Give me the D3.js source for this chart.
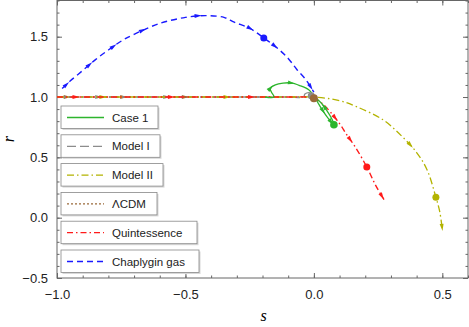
<!DOCTYPE html>
<html>
<head>
<meta charset="utf-8">
<script src="https://cdn.jsdelivr.net/npm/d3@7"></script>
<style>
  body { margin: 0; background: #fff; }
  svg { display: block; font-family: "Liberation Sans", Arial, sans-serif; }
</style>
</head>
<body>
<div id="chart"></div>
<script>
// Trajectories in the (s, r) plane
const chaplygin = [[-0.98, 1.07], [-0.95, 1.13], [-0.9, 1.22], [-0.85, 1.31], [-0.8, 1.39], [-0.745, 1.47],
  [-0.7, 1.52], [-0.6, 1.61], [-0.5, 1.66], [-0.42, 1.675], [-0.35, 1.66], [-0.31, 1.62], [-0.25, 1.57],
  [-0.195, 1.49], [-0.145, 1.41], [-0.1, 1.32], [-0.067, 1.23], [-0.03, 1.14], [0.0, 1.04]];
const quintessence = [[-1.0, 1.0], [-0.75, 1.0], [-0.5, 1.0], [-0.25, 1.0], [-0.1, 1.0], [-0.03, 1.0],
  [0.0, 0.99], [0.03, 0.95], [0.05, 0.91], [0.1, 0.78], [0.127, 0.69], [0.16, 0.59], [0.206, 0.42],
  [0.24, 0.27], [0.273, 0.15]];
const modelII = [[-1.0, 1.0], [-0.75, 1.0], [-0.5, 1.0], [-0.25, 1.0], [-0.05, 1.0], [0.0, 1.0],
  [0.1, 0.97], [0.166, 0.92], [0.27, 0.81], [0.34, 0.68], [0.4, 0.54], [0.44, 0.4], [0.475, 0.17],
  [0.49, 0.05], [0.5, -0.1]];
const modelI = [[-1.0, 1.0], [-0.75, 1.0], [-0.5, 1.0], [-0.25, 1.0], [-0.1, 1.0], [-0.04, 1.0],
  [-0.035, 1.025], [-0.015, 1.035], [0.0, 1.0]];
const lcdm = [[-1.0, 1.0], [-0.5, 1.0], [0.0, 1.0]];
const case1 = [[-0.19, 1.0], [-0.155, 1.0], [-0.165, 1.04], [-0.17, 1.07], [-0.15, 1.1], [-0.12, 1.115],
  [-0.09, 1.117], [-0.055, 1.095], [-0.02, 1.06], [0.0, 1.01], [0.022, 0.93], [0.05, 0.84], [0.078, 0.77],
  [0.072, 0.81], [0.05, 0.89], [0.022, 0.965], [0.0, 1.0]];

// Marked points on each trajectory
const markChaplygin = [-0.195, 1.49];
const markQuintessence = [0.206, 0.42];
const markModelII = [0.475, 0.17];
const markCase1 = [0.078, 0.77];
const markModelI = [-0.01, 1.01];
const markLcdm = [0.0, 0.99];

const legendLabels = ["Case 1", "Model I", "Model II", "\u039BCDM", "Quintessence", "Chaplygin gas"];
const xMajor = [-1.0, -0.5, 0.0, 0.5];
const yMajor = [-0.5, 0.0, 0.5, 1.0, 1.5];

const W = 469, H = 327;
const margin = { top: 0.5, right: 1, bottom: 49, left: 57 };

const svg = d3.select("#chart").append("svg").attr("width", W).attr("height", H);

const x = d3.scaleLinear().domain([-1.0, 0.6]).range([margin.left, W - margin.right]);
const y = d3.scaleLinear().domain([-0.5, 1.8]).range([H - margin.bottom, margin.top]);

const xMinor = d3.range(-1.0, 0.61, 0.1).map((d) => +d.toFixed(2));
const yMinor = d3.range(-0.5, 1.81, 0.1).map((d) => +d.toFixed(2));

const axisColor = "#666";
const fmt = (d) => d3.format(".1f")(d).replace("-", "\u2212");

function styleAxis(g) {
  g.select(".domain").remove();
  g.selectAll("line").attr("stroke", axisColor);
  g.selectAll("text").attr("fill", "#222").style("font-size", "13px");
}

// Minor ticks
svg.append("g").attr("transform", `translate(0,${y.range()[0]})`)
  .call(d3.axisBottom(x).tickValues(xMinor).tickSize(-2.5).tickFormat("")).call(styleAxis);
svg.append("g").attr("transform", `translate(0,${y.range()[1]})`)
  .call(d3.axisTop(x).tickValues(xMinor).tickSize(-2.5).tickFormat("")).call(styleAxis);
svg.append("g").attr("transform", `translate(${x.range()[0]},0)`)
  .call(d3.axisLeft(y).tickValues(yMinor).tickSize(-2.5).tickFormat("")).call(styleAxis);
svg.append("g").attr("transform", `translate(${x.range()[1]},0)`)
  .call(d3.axisRight(y).tickValues(yMinor).tickSize(-2.5).tickFormat("")).call(styleAxis);

// Major ticks
svg.append("g").attr("transform", `translate(0,${y.range()[0]})`)
  .call(d3.axisBottom(x).tickValues(xMajor).tickSize(-5).tickPadding(12).tickFormat(fmt)).call(styleAxis);
svg.append("g").attr("transform", `translate(0,${y.range()[1]})`)
  .call(d3.axisTop(x).tickValues(xMajor).tickSize(-5).tickFormat("")).call(styleAxis);
svg.append("g").attr("transform", `translate(${x.range()[0]},0)`)
  .call(d3.axisLeft(y).tickValues(yMajor).tickSize(-5).tickPadding(9).tickFormat(fmt)).call(styleAxis);
svg.append("g").attr("transform", `translate(${x.range()[1]},0)`)
  .call(d3.axisRight(y).tickValues(yMajor).tickSize(-5).tickFormat("")).call(styleAxis);

// Frame
svg.append("rect")
  .attr("x", x.range()[0]).attr("y", y.range()[1])
  .attr("width", x.range()[1] - x.range()[0]).attr("height", y.range()[0] - y.range()[1])
  .attr("fill", "none").attr("stroke", axisColor).attr("stroke-width", 1);

// Axis labels
svg.append("text").attr("x", (x.range()[0] + x.range()[1]) / 2 + 1).attr("y", 321)
  .attr("text-anchor", "middle").style("font-family", "'Liberation Serif', serif")
  .style("font-style", "italic").style("font-size", "16px").text("s");
svg.append("text").attr("transform", `translate(14,${(y.range()[0] + y.range()[1]) / 2}) rotate(-90)`)
  .attr("text-anchor", "middle").style("font-family", "'Liberation Serif', serif")
  .style("font-style", "italic").style("font-size", "16px").text("r");

const line = d3.line().x((d) => x(d[0])).y((d) => y(d[1])).curve(d3.curveCatmullRom.alpha(0.5));

const plot = svg.append("g");

// Arrowheads placed along the drawn path at given fractions of its length
function arrows(path, fractions, color, size) {
  const node = path.node();
  const L = node.getTotalLength();
  fractions.forEach((f) => {
    const p = node.getPointAtLength(f * L);
    const q = node.getPointAtLength(Math.min(L, f * L + 1));
    const a = Math.atan2(q.y - p.y, q.x - p.x) * 180 / Math.PI;
    plot.append("path")
      .attr("d", `M${size},0L${-size},${-size * 0.55}L${-size},${size * 0.55}Z`)
      .attr("transform", `translate(${p.x},${p.y}) rotate(${a})`)
      .attr("fill", color);
  });
}

function series(data, color, dash, width, fractions, mark, markR) {
  const p = plot.append("path").datum(data)
    .attr("d", line).attr("fill", "none")
    .attr("stroke", color).attr("stroke-width", width)
    .attr("stroke-dasharray", dash);
  if (fractions.length) arrows(p, fractions, color, 3.6);
  if (mark) {
    plot.append("circle").attr("cx", x(mark[0])).attr("cy", y(mark[1]))
      .attr("r", markR).attr("fill", color);
  }
  return p;
}

const cGreen = "#2db52d", cGray = "#8c8c8c", cOlive = "#b3b300", cBrown = "#9a6a3a",
  cRed = "#ff1a1a", cBlue = "#1a1aff";

series(lcdm, cBrown, "2,2", 1.3, [0.04, 0.26, 0.5], null);
series(modelI, cGray, "9,4", 1.3, [0.16, 0.42], null);
series(modelII, cOlive, "7,3,1.5,3", 1.3, [0.1, 0.37, 0.8, 0.995], markModelII, 3.5);
series(quintessence, cRed, "6,3,1.5,3", 1.4, [0.05, 0.3, 0.51, 0.68, 0.75, 0.82, 0.99], markQuintessence, 3.5);
series(case1, cGreen, null, 1.3, [0.14, 0.3, 0.62, 0.72, 0.9], markCase1, 3.8);
series(chaplygin, cBlue, "6,4", 1.4, [0.02, 0.12, 0.22, 0.33, 0.52, 0.7, 0.8, 0.98], markChaplygin, 3.5);

plot.append("circle").attr("cx", x(markModelI[0])).attr("cy", y(markModelI[1])).attr("r", 3.5).attr("fill", cGray);
plot.append("circle").attr("cx", x(markLcdm[0])).attr("cy", y(markLcdm[1])).attr("r", 4).attr("fill", cBrown);

// Legend: one framed box per entry
const legendColors = [cGreen, cGray, cOlive, cBrown, cRed, cBlue];
const legendDash = [null, "9,4", "7,3,1.5,3", "2,2", "6,3,1.5,3", "6,4"];
const boxW = [97, 99, 102, 96, 136, 138];

const legend = svg.append("g").attr("transform", "translate(61,106)");
legendLabels.forEach((label, i) => {
  const g = legend.append("g").attr("transform", `translate(0,${i * 28.8})`);
  g.append("rect").attr("x", 1.5).attr("y", 1.5).attr("width", boxW[i]).attr("height", 22.5)
    .attr("fill", "#d8d8d8");
  g.append("rect").attr("x", 0).attr("y", 0).attr("width", boxW[i]).attr("height", 22.5)
    .attr("fill", "#fff").attr("stroke", "#888").attr("stroke-width", 0.8);
  g.append("line").attr("x1", 6).attr("x2", 43).attr("y1", 11.5).attr("y2", 11.5)
    .attr("stroke", legendColors[i]).attr("stroke-width", 1.3)
    .attr("stroke-dasharray", legendDash[i]);
  g.append("text").attr("x", 51).attr("y", 15.5).style("font-size", "11.5px")
    .attr("fill", "#222").text(label);
});
</script>
</body>
</html>
